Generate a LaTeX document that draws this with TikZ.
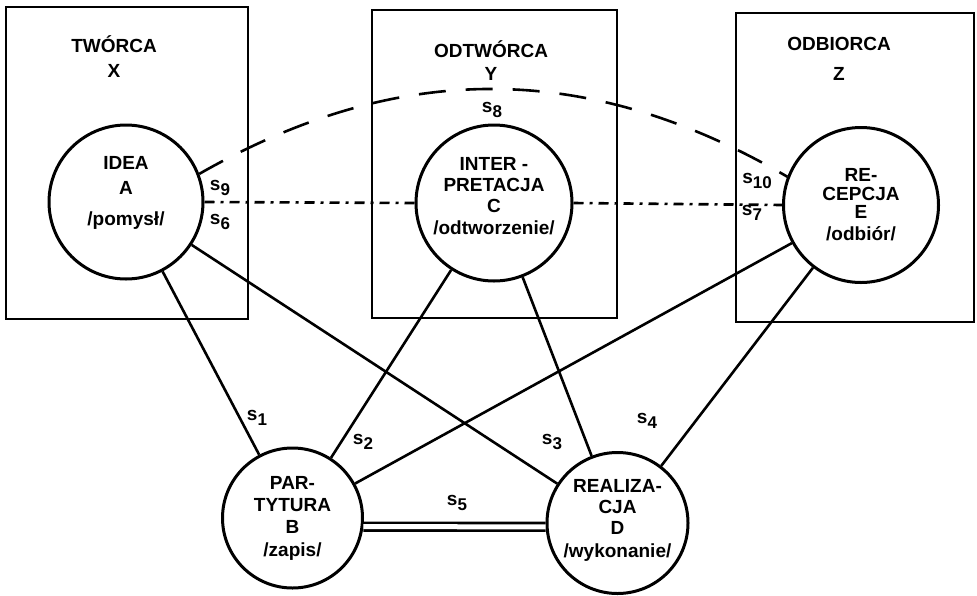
\documentclass[tikz,border=0pt]{standalone}
\usepackage{fontspec}
\setmainfont{Liberation Sans}
\usetikzlibrary{positioning}

\newcommand{\sind}[1]{s\raisebox{-0.55ex}{\fontsize{17}{17}\selectfont #1}}

\begin{document}
\begin{tikzpicture}[x=1pt, y=1pt, font=\bfseries\fontsize{19}{21}\selectfont,
  ramka/.style={draw, rectangle, line width=2.8pt},
  kolo/.style={draw, circle, line width=3pt, align=center, inner sep=0pt},
  linia/.style={line width=2.6pt},
  kreski/.style={line width=2.6pt, dash pattern=on 10pt off 6pt on 3pt off 6pt},
  luk/.style={line width=2.6pt, dash pattern=on 27pt off 20pt}]
\useasboundingbox (0,0) rectangle (977,-595);

% ramki: tworca, odtworca, odbiorca
\node[ramka, minimum width=242pt, minimum height=312pt] (x) at (127,-163) {};
\node[ramka, minimum width=245pt, minimum height=308pt] (y) at (494.5,-164) {};
\node[ramka, minimum width=238pt, minimum height=309pt] (z) at (855,-167.5) {};
\node (tx) at (114,-44) {TWÓRCA};
\node[below=5pt of tx] (lx) {X};
\node (ty) at (491,-49) {ODTWÓRCA};
\node[below=3pt of ty] (ly) {Y};
\node (tz) at (839,-44) {ODBIORCA};
\node[below=10pt of tz] (lz) {Z};

% kola
\node[kolo, minimum size=154pt] (a) at (126,-202) {IDEA\\[4pt]A\\[10pt]/pomysł/\\[2pt]};
\node[kolo, minimum size=156pt] (c) at (494,-203) {INTER -\\PRETACJA\\C\\[1pt]/odtworzenie/\\[-6pt]};
\node[kolo, minimum size=155pt] (e) at (861,-205) {RE-\\[-2pt]CEPCJA\\[-3pt]E\\[1pt]/odbiór/};
\node[kolo, minimum size=140pt] (b) at (292.5,-518) {PAR-\\[1pt]TYTURA\\[1pt]B\\[2pt]/zapis/};
\node[kolo, minimum size=141pt] (d) at (617.5,-523) {REALIZA-\\CJA\\D\\[2pt]/wykonanie/\\[-12pt]};

% polaczenia
\draw[linia] (a) -- (b);
\draw[linia] (a) -- (d);
\draw[linia] (c) -- (b);
\draw[linia] (c) -- (d);
\draw[linia] (e) -- (b);
\draw[linia] (e) -- (d);
\draw[line width=2.6pt, double, double distance=5pt] (b.-7) -- (d.183);
\draw[kreski] (a.east) -- (c.west);
\draw[kreski] (c.east) -- (e.west);
\draw[luk] (a.21) to[bend left=30] (e.159);

% etykiety
\node (s1) at (257,-418) {\sind{1}};
\node (s2) at (363,-442) {\sind{2}};
\node (s3) at (552,-442) {\sind{3}};
\node (s4) at (647,-421) {\sind{4}};
\node (s5) at (457,-503) {\sind{5}};
\node (s6) at (220,-222) {\sind{6}};
\node (s7) at (752,-213) {\sind{7}};
\node (s8) at (492,-110) {\sind{8}};
\node (s9) at (220,-188) {\sind{9}};
\node (s10) at (757,-181) {\sind{10}};
\end{tikzpicture}
\end{document}
